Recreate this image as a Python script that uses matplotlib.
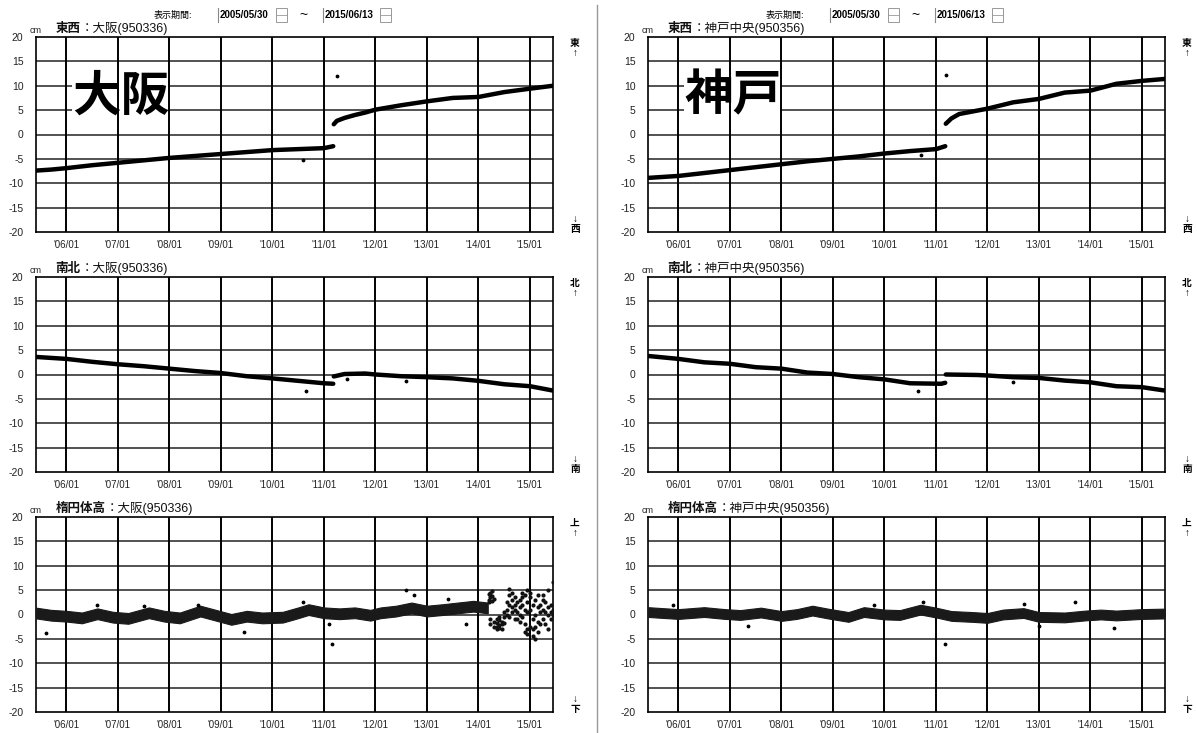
import matplotlib
matplotlib.use("Agg")
from matplotlib import pyplot as plt
from matplotlib.lines import Line2D
from matplotlib.patches import Rectangle
import numpy as np

plt.rcParams['font.family'] = ['Liberation Sans', 'Noto Sans CJK JP', 'DejaVu Sans']
plt.rcParams['axes.unicode_minus'] = False

W, H = 1197, 733

# display period (decimal years): 2005/05/30 - 2015/06/13
t_start, t_end = 2005.408, 2015.447
year_ticks = list(range(2006, 2016))
year_labels = ["'%02d/01" % (y % 100) for y in year_ticks]
y_ticks = [-20, -15, -10, -5, 0, 5, 10, 15, 20]

nan = float('nan')

# ---- 東西 (east-west), cm ----
osaka_ew_t = [2005.41, 2005.7, 2006.0, 2006.5, 2007.0, 2007.5, 2008.0, 2008.5, 2009.0, 2009.5,
              2010.0, 2010.5, 2011.0, 2011.18, 2011.185,
              2011.19, 2011.25, 2011.4, 2011.6, 2011.8, 2012.0, 2012.5, 2013.0, 2013.5, 2014.0,
              2014.5, 2015.0, 2015.447]
osaka_ew_v = [-7.4, -7.2, -6.9, -6.3, -5.8, -5.3, -4.8, -4.4, -4.0, -3.6,
              -3.2, -3.0, -2.8, -2.4, nan,
              2.1, 2.8, 3.4, 4.0, 4.5, 5.1, 6.0, 6.8, 7.5, 7.7,
              8.7, 9.4, 10.0]
kobe_ew_t = [2005.41, 2006.0, 2006.5, 2007.0, 2007.5, 2008.0, 2008.5, 2009.0, 2009.5, 2010.0,
             2010.5, 2011.0, 2011.18, 2011.185,
             2011.19, 2011.3, 2011.45, 2011.7, 2012.0, 2012.5, 2013.0, 2013.5, 2014.0,
             2014.5, 2015.0, 2015.447]
kobe_ew_v = [-8.9, -8.5, -7.9, -7.3, -6.7, -6.1, -5.5, -5.0, -4.5, -3.9,
             -3.4, -3.0, -2.4, nan,
             2.2, 3.3, 4.2, 4.7, 5.3, 6.6, 7.3, 8.6, 9.0,
             10.4, 11.0, 11.4]

# ---- 南北 (north-south), cm ----
osaka_ns_t = [2005.41, 2006.0, 2006.5, 2007.0, 2007.5, 2008.0, 2008.5, 2009.0, 2009.5, 2010.0,
              2010.5, 2011.0, 2011.18, 2011.185,
              2011.19, 2011.4, 2011.8, 2012.0, 2012.5, 2013.0, 2013.5, 2014.0, 2014.5,
              2015.0, 2015.447]
osaka_ns_v = [3.6, 3.2, 2.6, 2.1, 1.7, 1.2, 0.7, 0.3, -0.35, -0.8,
              -1.3, -1.8, -1.9, nan,
              -0.4, 0.1, 0.2, 0.0, -0.35, -0.55, -0.8, -1.3, -2.0,
              -2.4, -3.3]
kobe_ns_t = [2005.41, 2006.0, 2006.5, 2007.0, 2007.5, 2008.0, 2008.5, 2009.0, 2009.5, 2010.0,
             2010.5, 2011.1, 2011.18, 2011.185,
             2011.19, 2011.8, 2012.0, 2012.5, 2013.0, 2013.5, 2014.0, 2014.5,
             2015.0, 2015.447]
kobe_ns_v = [3.8, 3.2, 2.5, 2.2, 1.5, 1.2, 0.4, 0.1, -0.55, -1.0,
             -1.8, -1.9, -1.7, nan,
             0.0, -0.1, -0.2, -0.55, -0.7, -1.25, -1.6, -2.4,
             -2.6, -3.3]

# ---- 楕円体高 (ellipsoidal height), cm: centre and half spread of the daily cloud ----
osaka_up_t = [2005.41, 2005.7, 2006.0, 2006.3, 2006.6, 2006.9, 2007.2, 2007.6, 2007.9, 2008.2,
              2008.6, 2008.9, 2009.2, 2009.5, 2009.8, 2010.2, 2010.5, 2010.7, 2011.0, 2011.3,
              2011.6, 2011.9, 2012.1, 2012.4, 2012.7, 2013.0, 2013.3, 2013.6, 2013.9, 2014.18]
osaka_up_c = [0.3, -0.15, -0.35, -0.7, 0.15, -0.55, -0.8, 0.35, -0.35, -0.7,
              0.7, -0.15, -1.0, -0.35, -0.7, -0.55, 0.35, 1.0, 0.35, 0.15,
              0.35, -0.15, 0.35, 0.7, 1.35, 0.7, 1.0, 1.35, 1.7, 1.35]
osaka_up_s = [1.1] * 30
# the scattered part after 2014/03 (individual points)
osaka_up_late_t = [2014.20, 2014.20, 2014.20, 2014.23, 2014.23, 2014.23, 2014.23, 2014.26, 2014.26,
                   2014.26, 2014.30, 2014.30, 2014.30, 2014.35, 2014.35, 2014.35, 2014.35, 2014.40,
                   2014.40, 2014.40, 2014.40, 2014.45, 2014.45, 2014.45, 2014.50, 2014.50, 2014.50,
                   2014.55, 2014.55, 2014.55, 2014.60, 2014.60, 2014.60, 2014.60, 2014.65, 2014.65,
                   2014.65, 2014.65, 2014.70, 2014.70, 2014.70, 2014.70, 2014.75, 2014.75, 2014.75,
                   2014.80, 2014.80, 2014.80, 2014.80, 2014.85, 2014.85, 2014.85, 2014.85, 2014.90,
                   2014.90, 2014.90, 2014.90, 2014.95, 2014.95, 2014.95, 2014.95, 2014.95, 2015.00,
                   2015.00, 2015.00, 2015.00, 2015.05, 2015.05, 2015.05, 2015.05, 2015.10, 2015.10,
                   2015.10, 2015.10, 2015.15, 2015.15, 2015.15, 2015.15, 2015.20, 2015.20, 2015.20,
                   2015.25, 2015.25, 2015.25, 2015.25, 2015.30, 2015.30, 2015.30, 2015.35, 2015.35,
                   2015.35, 2015.35, 2015.40, 2015.40, 2015.40, 2015.44, 2015.44, 2015.44]
osaka_up_late_v = [3.0, 4.2, 2.5, 4.5, 3.6, -1.0, -2.0, 3.8, 4.8,
                   2.8, 3.2, -1.5, -2.5, -1.8, -2.5, -1.0, -3.0, -2.2,
                   -1.2, -2.8, -0.5, -2.0, -3.0, -1.5, -0.5, -1.8, 0.5,
                   1.0, 2.5, 0.0, 4.0, 5.3, 2.0, -0.5, 3.0, 1.5,
                   4.5, 0.5, -1.0, 1.0, 2.0, 3.5, 0.5, -1.0, 2.5,
                   3.0, 1.5, 0.0, -1.5, 4.5, 2.0, -0.5, 3.5, -3.5,
                   -2.0, 1.0, 4.0, -4.0, -3.0, 0.5, 2.5, 5.0, 3.5,
                   1.0, -2.5, 4.5, -3.0, -4.5, -1.0, 2.0, -5.0, -2.5,
                   0.0, 3.0, 1.5, -1.5, 4.0, -3.5, 2.0, 0.5, -2.0,
                   3.0, 1.0, -1.0, 4.0, -2.0, 0.5, 2.5, 1.5, -3.0,
                   5.0, 0.0, 2.0, -1.0, 0.5, 6.7, 0.0, 1.0]
osaka_up_dots_t = [2005.6, 2006.6, 2007.5, 2008.55, 2009.45, 2010.6, 2011.1, 2011.15, 2012.6,
                   2012.75, 2013.4, 2013.75]
osaka_up_dots_v = [-3.7, 2.0, 1.8, 2.0, -3.5, 2.5, -2.0, -6.0, 5.0,
                   4.0, 3.2, -2.0]

kobe_up_t = [2005.41, 2005.7, 2006.0, 2006.5, 2006.9, 2007.2, 2007.6, 2008.0, 2008.3, 2008.6,
             2008.9, 2009.3, 2009.6, 2010.0, 2010.3, 2010.7, 2011.0, 2011.3, 2011.7, 2012.0,
             2012.3, 2012.7, 2013.0, 2013.5, 2013.9, 2014.2, 2014.5, 2015.0, 2015.447]
kobe_up_c = [0.5, 0.3, 0.1, 0.5, 0.1, -0.1, 0.4, -0.3, 0.1, 0.8,
             0.2, -0.5, 0.5, 0.0, -0.1, 1.0, 0.4, -0.3, -0.5, -0.7,
             0.0, 0.3, -0.5, -0.6, -0.2, 0.0, -0.2, 0.1, 0.2]
kobe_up_s = [1.0] * 29
kobe_up_dots_t = [2005.9, 2007.35, 2009.8, 2010.75, 2011.17, 2012.7, 2013.0, 2013.7, 2014.45]
kobe_up_dots_v = [2.0, -2.4, 1.9, 2.5, -6.1, 2.2, -2.3, 2.5, -2.8]

# scattered single points on the horizontal components
osaka_ew_dots = ([2010.6, 2011.25], [-5.2, 12.0])
kobe_ew_dots = ([2010.7, 2011.2], [-4.3, 12.3])
osaka_ns_dots = ([2010.65, 2011.45, 2012.6], [-3.3, -1.0, -1.4])
kobe_ns_dots = ([2010.65, 2012.5], [-3.4, -1.6])

stations = [("大阪(950336)", "大阪"), ("神戸中央(950356)", "神戸")]
components = ["東西", "南北", "楕円体高"]
direction = [("東", "西"), ("北", "南"), ("上", "下")]

fig = plt.figure(figsize=(W / 100, H / 100), dpi=100)

col_left = [36, 648]
ax_w = 517
row_top = [37, 277, 517]
ax_h = 195


def setup(ax):
    ax.set_xlim(t_start, t_end)
    ax.set_ylim(-20, 20)
    ax.set_xticks(year_ticks)
    ax.set_xticklabels(year_labels)
    ax.set_yticks(y_ticks)
    ax.tick_params(length=0, labelsize=7.5, colors='#222')
    ax.tick_params(axis='x', pad=6, labelsize=7)
    ax.tick_params(axis='y', pad=9)
    # grid drawn as lines: horizontal ones under the station label, vertical ones over it
    for yv in y_ticks[1:-1]:
        ax.axhline(yv, color='#444', lw=1.3, zorder=1)
    for xv in year_ticks:
        ax.axvline(xv, color='black', lw=1.4, zorder=2.5)
    for s in ax.spines.values():
        s.set_color('black')
        s.set_linewidth(1.2)


series = {
    (0, 0): (osaka_ew_t, osaka_ew_v, osaka_ew_dots),
    (1, 0): (kobe_ew_t, kobe_ew_v, kobe_ew_dots),
    (0, 1): (osaka_ns_t, osaka_ns_v, osaka_ns_dots),
    (1, 1): (kobe_ns_t, kobe_ns_v, kobe_ns_dots),
}
heights = {
    0: (osaka_up_t, osaka_up_c, osaka_up_s, osaka_up_dots_t, osaka_up_dots_v),
    1: (kobe_up_t, kobe_up_c, kobe_up_s, kobe_up_dots_t, kobe_up_dots_v),
}

for c in range(2):
    for r in range(3):
        x0 = col_left[c]
        y0 = row_top[r]
        ax = fig.add_axes([x0 / W, 1 - (y0 + ax_h) / H, ax_w / W, ax_h / H])
        setup(ax)
        if r < 2:
            t, v, dots = series[(c, r)]
            ax.plot(t, v, color='black', lw=3.2, solid_capstyle='round', zorder=3)
            ax.scatter(dots[0], dots[1], s=3, color='black', zorder=3)
        else:
            t, cc, ss, dt, dv = heights[c]
            cc = np.array(cc)
            ss = np.array(ss)
            ax.fill_between(t, cc - ss, cc + ss, color='#1a1a1a', lw=0.8, zorder=3)
            ax.scatter(dt, dv, s=3, color='black', zorder=3)
            if c == 0:
                ax.scatter(osaka_up_late_t, osaka_up_late_v, s=9, marker='o',
                           color='#111', lw=0, zorder=3)
        # panel titles
        ax.text(-0.012, 1.012, "cm", transform=ax.transAxes, fontsize=6.5, va='bottom', color='#222')
        t1 = ax.text(0.038, 1.008, components[r], transform=ax.transAxes,
                     fontsize=9, va='bottom', color='#111', fontweight='bold')
        ax.annotate("：" + stations[c][0], xy=(1, 0), xycoords=t1, va='bottom',
                    fontsize=9, color='#111')
        # direction marks on the right
        dx = (x0 + ax_w + 22) / W
        up, down = direction[r]
        fig.text(dx, 1 - (y0 + 1) / H, up + "\n↑", fontsize=7, ha='center', va='top',
                 linespacing=1.0, fontweight='bold')
        fig.text(dx, 1 - (y0 + ax_h + 2) / H, "↓\n" + down, fontsize=7, ha='center',
                 va='bottom', linespacing=1.0, fontweight='bold')
        if r == 0:
            ax.text(0.07, 0.69, stations[c][1], transform=ax.transAxes, fontsize=35,
                    fontweight='bold', va='center', ha='left', zorder=2,
                    bbox=dict(facecolor='white', edgecolor='none', pad=0))

# header: display period
for c in range(2):
    x0 = col_left[c]
    yh = 1 - 15 / H
    fig.text((x0 + 118) / W, yh, "表示期間:", fontsize=6.5, va='center')
    fig.text((x0 + 184) / W, yh, "2005/05/30", fontsize=7, va='center', fontweight='bold')
    fig.text((x0 + 263) / W, yh, "~", fontsize=10, va='center')
    fig.text((x0 + 289) / W, yh, "2015/06/13", fontsize=7, va='center', fontweight='bold')
    for bx in (x0 + 182, x0 + 287):
        fig.add_artist(Line2D([bx / W, bx / W], [1 - 8 / H, 1 - 22 / H], color='#888', lw=0.8))
    for sx in (x0 + 240, x0 + 344):
        fig.add_artist(Rectangle((sx / W, 1 - 22 / H), 11 / W, 14 / H, fill=False,
                                 edgecolor='#999', lw=0.7))
        fig.add_artist(Line2D([sx / W, (sx + 11) / W], [1 - 15 / H, 1 - 15 / H], color='#999', lw=0.6))

# divider between the two stations
fig.add_artist(Line2D([597 / W, 597 / W], [0, 1 - 5 / H], color='#999', lw=1.0))

fig.savefig("out.png", dpi=100, facecolor='white')
